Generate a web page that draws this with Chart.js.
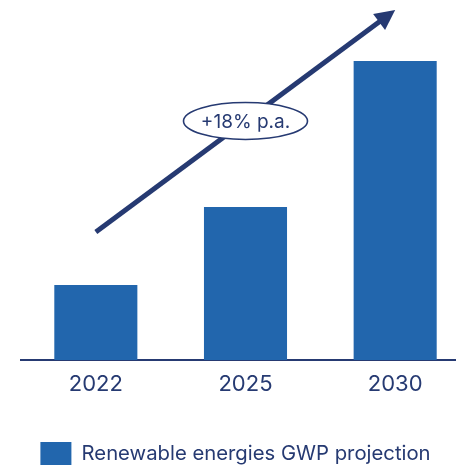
<!DOCTYPE html>
<html>
<head>
<meta charset="utf-8">
<script src="https://cdn.jsdelivr.net/npm/chart.js@4.4.1/dist/chart.umd.min.js"></script>
<style>
  html, body { margin: 0; padding: 0; background: #fff; overflow: hidden; }
  #wrap { position: relative; width: 470px; height: 476px; }
</style>
</head>
<body>
<div id="wrap"><canvas id="gwpChart"></canvas></div>
<script>
const NAVY = "#263a72";
const BAR_BLUE = "#2266ad";

const years = ["2022", "2025", "2030"];
const gwpValues = [75, 153, 299];
const seriesLabel = "Renewable energies GWP projection";

// growth arrow, in data units (category index, value)
const arrowFrom = [0, 128];
const arrowTo = [2, 350];
const growthLabel = "+18% p.a.";

const growthArrow = {
    id: "growthArrow",
    afterLayout(chart) {
        // legend sits a little left of the plot centre in the original
        chart.legend.left -= 10;
        chart.legend.right -= 10;
    },
    afterDatasetsDraw(chart) {
        const { ctx, scales: { x, y } } = chart;
        const x0 = x.getPixelForValue(arrowFrom[0]);
        const y0 = y.getPixelForValue(arrowFrom[1]);
        const x1 = x.getPixelForValue(arrowTo[0]);
        const y1 = y.getPixelForValue(arrowTo[1]);
        const ang = Math.atan2(y1 - y0, x1 - x0);
        const headLen = 20;
        const headHalf = 10;

        ctx.save();
        ctx.strokeStyle = NAVY;
        ctx.fillStyle = NAVY;
        ctx.lineWidth = 5;
        ctx.beginPath();
        ctx.moveTo(x0, y0);
        ctx.lineTo(x1 - Math.cos(ang) * (headLen - 2), y1 - Math.sin(ang) * (headLen - 2));
        ctx.stroke();

        // head
        const bx = x1 - Math.cos(ang) * headLen;
        const by = y1 - Math.sin(ang) * headLen;
        ctx.beginPath();
        ctx.moveTo(x1, y1);
        ctx.lineTo(bx + Math.sin(ang) * headHalf, by - Math.cos(ang) * headHalf);
        ctx.lineTo(bx - Math.sin(ang) * headHalf, by + Math.cos(ang) * headHalf);
        ctx.closePath();
        ctx.fill();

        // label ellipse at midpoint
        const mx = (x0 + x1) / 2;
        const my = (y0 + y1) / 2;
        ctx.beginPath();
        ctx.ellipse(mx, my, 62, 18.5, 0, 0, Math.PI * 2);
        ctx.fillStyle = "#fff";
        ctx.fill();
        ctx.lineWidth = 1.6;
        ctx.stroke();
        ctx.fillStyle = NAVY;
        ctx.font = "19px Inter";
        ctx.textAlign = "center";
        ctx.textBaseline = "middle";
        ctx.fillText(growthLabel, mx, my + 1);
        ctx.restore();
    },
};

new Chart(document.getElementById("gwpChart"), {
    type: "bar",
    data: {
        labels: years,
        datasets: [
            {
                label: seriesLabel,
                data: gwpValues,
                backgroundColor: BAR_BLUE,
                barPercentage: 0.555,
                categoryPercentage: 1,
            },
        ],
    },
    options: {
        responsive: true,
        maintainAspectRatio: false,
        animation: false,
        layout: { padding: { left: 21, right: 0, top: 0, bottom: 0 } },
        plugins: {
            tooltip: { enabled: false },
            legend: {
                position: "bottom",
                labels: {
                    boxWidth: 31,
                    boxHeight: 24,
                    color: NAVY,
                    font: { family: "Inter", size: 20.3 },
                    padding: 41.6,
                },
            },
        },
        scales: {
            x: {
                grid: { display: false },
                border: { color: NAVY, width: 2 },
                ticks: {
                    color: NAVY,
                    font: { family: "Inter", size: 22 },
                    padding: 3,
                },
            },
            y: {
                display: false,
                min: 0,
                max: 360,
            },
        },
    },
    plugins: [growthArrow],
});
</script>
</body>
</html>
